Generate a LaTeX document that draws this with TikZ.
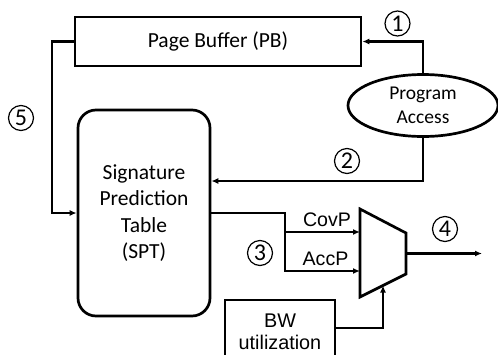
\documentclass[tikz,border=0pt]{standalone}
\usepackage{fontspec}
\setmainfont{Carlito}
\newfontfamily\arialfont{Liberation Sans}
\usetikzlibrary{arrows.meta,shapes.geometric,positioning}

\begin{document}
\begin{tikzpicture}[x=1pt,y=-1pt,
  >={Latex[length=7pt,width=6pt]},
  blk/.style={draw,line width=2.7pt,inner sep=0pt},
  wire/.style={line width=2.3pt},
  num/.style={draw,circle,line width=1.2pt,minimum size=25pt,inner sep=0pt,font=\fontsize{24}{24}\selectfont},
  lbl/.style={font=\arialfont\fontsize{19.6}{22}\selectfont,inner sep=0pt}]

        \useasboundingbox (0,0) rectangle (498,354);
        \clip (0,0) rectangle (498,354);

        \node[blk,minimum width=286pt,minimum height=49pt,font=\fontsize{21.5}{26}\selectfont] (pb) at (218,41.5) {Page Buffer (PB)};
        \node[blk,ellipse,minimum width=150pt,minimum height=62pt,align=center,font=\fontsize{19.5}{24}\selectfont] (pa) at (423,105.5) {Program\\Access};
        \node[blk,rounded corners=18pt,minimum width=132pt,minimum height=206pt,align=center,font=\fontsize{21.5}{26.5}\selectfont] (spt) at (144,213) {Signature\\Prediction\\Table\\(SPT)};
        \node[blk,minimum width=110pt,minimum height=64pt,align=center,font=\arialfont\fontsize{19.8}{22}\selectfont] (bw) at (280,332) {BW\\utilization};

        \draw[blk] (360,209) -- (406,233) -- (406,274) -- (360,297) -- cycle;
        \coordinate (cov) at (360,232);
        \coordinate (acc) at (360,271);
        \coordinate (muxo) at (406,253.5);
        \coordinate (muxb) at (383,285.5);
        \coordinate (out) at (482,253.5);

        \draw[wire,->] (pa.north) |- (pb.east);
        \draw[wire,->] (pa.south) |- ([yshift=32pt]spt.east);
        \draw[wire,->] (pb.west) -- ++(-22,0) |- (spt.west);
        \draw[wire,->] (spt.east) -| ([xshift=-75pt]acc) -- (acc);
        \draw[wire,->] ([xshift=-75pt]cov) -- (cov);
        \draw[wire,->] (muxo) -- (out);
        \draw[wire,->] ([yshift=4pt]bw.east) -| (muxb);

        \node[lbl,anchor=base] (covp) at (327,226) {CovP};
        \node[lbl,anchor=base] (accp) at (325.5,265) {AccP};

        \node[num] (n1) at (397.5,23.5) {1};
        \node[num] (n2) at (347,161) {2};
        \node[num] (n3) at (260,253) {3};
        \node[num] (n4) at (445,229) {4};
        \node[num] (n5) at (21,118) {5};
\end{tikzpicture}
\end{document}
